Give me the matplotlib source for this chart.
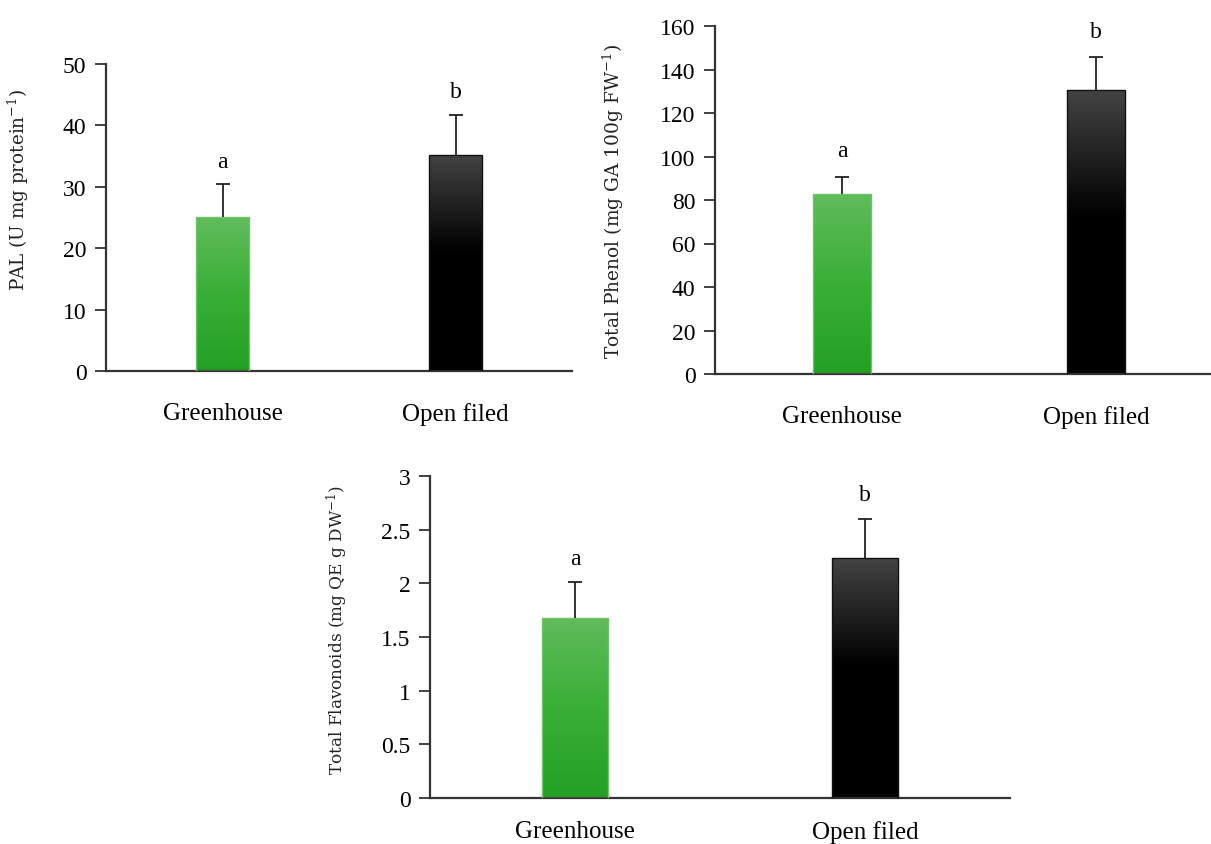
import matplotlib
matplotlib.use("Agg")
import matplotlib.pyplot as plt
import numpy as np
from matplotlib.colors import LinearSegmentedColormap

plt.rcParams['font.family'] = ['Liberation Serif', 'DejaVu Serif']
plt.rcParams['mathtext.fontset'] = 'custom'
plt.rcParams['mathtext.rm'] = 'DejaVu Serif'
plt.rcParams['mathtext.default'] = 'regular'

# data
groups = ['Greenhouse', 'Open filed']
pal = [25.1, 35.2]
pal_err = [5.3, 6.5]
phenol = [82.8, 130.6]
phenol_err = [7.8, 15.1]
flav = [1.68, 2.24]
flav_err = [0.33, 0.36]
letters = ['a', 'b']

W, H = 1211, 845
fig = plt.figure(figsize=(W / 100, H / 100), dpi=100)

green_cm = LinearSegmentedColormap.from_list('g', ['#23a023', '#3aaf36', '#60bb5c'])
black_cm = LinearSegmentedColormap.from_list('k', [(0, '#000000'), (0.55, '#000000'), (1, '#444444')])


def px_axes(left, right, bottom, top):
    # pixel box -> figure fraction
    return fig.add_axes([left / W, 1 - bottom / H, (right - left) / W, (bottom - top) / H])


def panel(ax, vals, errs, ymax, step, ylabel, lab_xy, lab_size, xpad=22):
    x = np.arange(len(vals))
    bw = 0.23
    grad = np.linspace(0, 1, 256).reshape(-1, 1)
    for xi, v, cm, ec in zip(x, vals, [green_cm, black_cm], ['#6cc46a', '#111111']):
        bar = ax.bar(xi, v, width=bw, color='none', edgecolor=ec, linewidth=1, zorder=3)[0]
        im = ax.imshow(grad, cmap=cm, origin='lower', aspect='auto',
                       extent=[xi - bw / 2, xi + bw / 2, 0, v], zorder=2)
        im.set_clip_path(bar)
    tops = np.array(vals) + np.array(errs)
    # upper error only, cap on top
    ax.vlines(x, vals, tops, color='#222222', linewidth=1.3, zorder=4)
    ax.plot(x, tops, linestyle='none', marker='_', markersize=10, markeredgewidth=1.3,
            color='#222222', zorder=4)
    for xi, t_, t in zip(x, tops, letters):
        ax.text(xi, t_ + 0.075 * ymax, t, ha='center', va='center', fontsize=17)
    ax.set_xlim(-0.5, 1.5)
    ax.set_ylim(0, ymax)
    ticks = np.arange(0, ymax + step / 2, step)
    ax.set_yticks(ticks)
    ax.set_yticklabels([f'{t:g}' for t in ticks])
    ax.set_xticks(x)
    ax.set_xticklabels(groups, fontsize=18)
    ax.tick_params(axis='x', length=0, pad=xpad)
    ax.tick_params(axis='y', length=8, width=1.3, color='#333333', labelsize=17, pad=6)
    for s in ['top', 'right']:
        ax.spines[s].set_visible(False)
    for s in ['left', 'bottom']:
        ax.spines[s].set_color('#333333')
        ax.spines[s].set_linewidth(1.6)
    ax.set_facecolor('none')
    fig.text(lab_xy[0] / W, 1 - lab_xy[1] / H, ylabel, rotation=90, ha='center', va='center',
             fontsize=lab_size, family='DejaVu Serif', color='#222222')


ax1 = px_axes(106, 572, 372, 65)
panel(ax1, pal, pal_err, 50, 10, r'PAL (U mg protein$^{-1}$)', (18, 190), 13.2)

ax2 = px_axes(715, 1223, 375, 27)
panel(ax2, phenol, phenol_err, 160, 20, r'Total Phenol (mg GA 100g FW$^{-1}$)', (613, 202), 13.4)

ax3 = px_axes(430, 1010, 799, 477)
panel(ax3, flav, flav_err, 3, 0.5, r'Total Flavonoids (mg QE g DW$^{-1}$)', (337, 630), 12.2, xpad=16)

fig.savefig('out.png', dpi=100)
